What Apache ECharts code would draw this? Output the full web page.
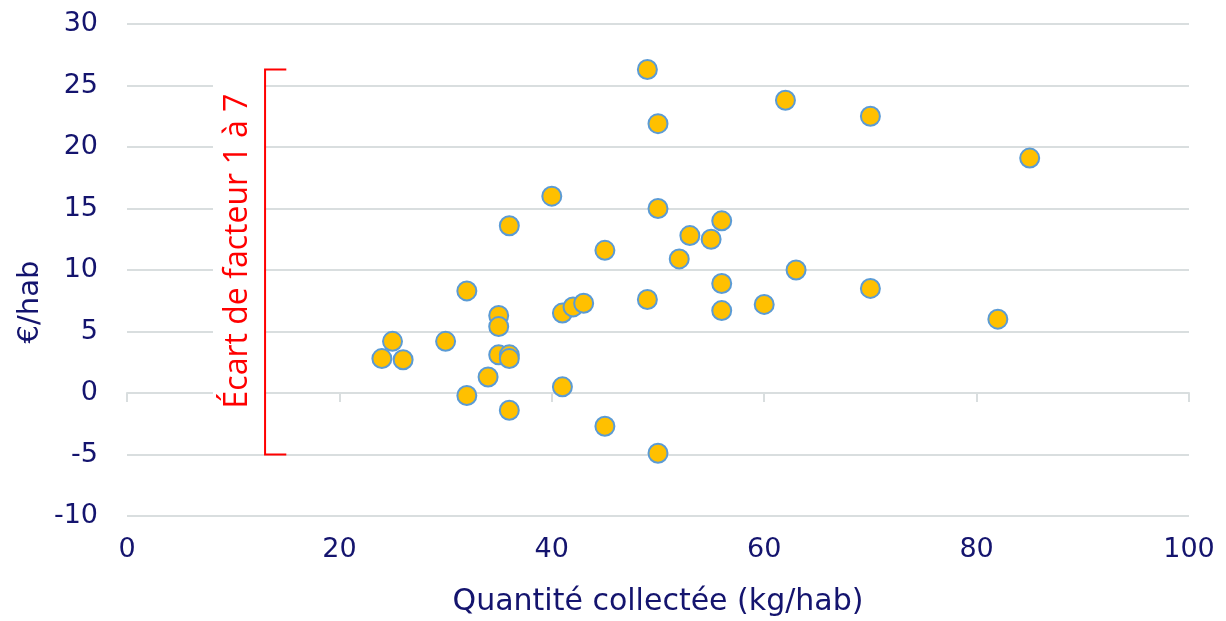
<!DOCTYPE html>
<html lang="fr">
<head>
    <meta charset="UTF-8">
    <title>Coût par habitant selon la quantité collectée</title>
    <script src="https://cdn.jsdelivr.net/npm/echarts@6/dist/echarts.min.js"></script>
    <style>
        html, body { margin: 0; padding: 0; background: #fff; }
    </style>
</head>
<body>
    <div id="main" style="width:1226px;height:621px;"></div>
    <script>
        // quantité collectée (kg/hab) et coût (€/hab) de chaque collectivité
        var quantites = [24, 25, 26, 30, 32, 32, 34, 35, 35, 35, 36, 36, 36, 36,
                         40, 41, 41, 42, 43, 45, 45, 49, 49, 50, 50, 50, 52, 53,
                         55, 56, 56, 56, 60, 62, 63, 70, 70, 82, 85];
        var couts = [2.8, 4.2, 2.7, 4.2, 8.3, -0.2, 1.3, 6.3, 5.4, 3.1, 3.1, 2.8, 13.6, -1.4,
                     16.0, 0.5, 6.5, 7.0, 7.3, 11.6, -2.7, 26.3, 7.6, 21.9, 15.0, -4.9, 10.9, 12.8,
                     12.5, 14.0, 8.9, 6.7, 7.2, 23.8, 10.0, 22.5, 8.5, 6.0, 19.1];

        // bornes de l'accolade "écart de facteur 1 à 7"
        var ecartMax = 26.3;
        var ecartMin = -5;

        var texte = '#14146E';
        var grille = '#D9DEDF';

        var points = quantites.map(function (q, i) {
            return [q, couts[i]];
        });

        var chart = echarts.init(document.getElementById('main'));

        var option = {
            animation: false,
            grid: {
                left: 127,
                right: 37,
                top: 24,
                bottom: 105,
                containLabel: false,
                outerBoundsMode: 'none'
            },
            xAxis: [
                {
                    type: 'value',
                    min: 0,
                    max: 100,
                    interval: 20,
                    name: 'Quantité collectée (kg/hab)',
                    nameLocation: 'middle',
                    nameGap: 71,
                    nameTextStyle: { color: texte, fontSize: 30, fontFamily: 'DejaVu Sans' },
                    axisLine: { show: false, onZero: false },
                    axisTick: { show: false },
                    splitLine: { show: false },
                    axisLabel: { color: texte, fontSize: 27, fontFamily: 'DejaVu Sans', margin: 20 }
                },
                {
                    // ligne de l'axe au niveau du zéro
                    type: 'value',
                    position: 'bottom',
                    min: 0,
                    max: 100,
                    interval: 20,
                    axisLine: { show: true, onZero: true, lineStyle: { color: grille, width: 2 } },
                    axisTick: { show: true, length: 9, lineStyle: { color: grille, width: 2 } },
                    axisLabel: { show: false },
                    splitLine: { show: false }
                }
            ],
            yAxis: {
                type: 'value',
                min: -10,
                max: 30,
                interval: 5,
                axisLine: { show: false },
                axisTick: { show: false },
                splitLine: { lineStyle: { color: grille, width: 2 } },
                axisLabel: { color: texte, fontSize: 27, fontFamily: 'DejaVu Sans', margin: 29 }
            },
            series: [
                {
                    type: 'scatter',
                    xAxisIndex: 0,
                    data: points,
                    symbolSize: 19,
                    itemStyle: {
                        color: '#FFC000',
                        borderColor: '#5B9BD5',
                        borderWidth: 2,
                        opacity: 1
                    },
                    z: 5
                }
            ]
        };

        chart.setOption(option);

        // accolade et texte à gauche, positionnés avec les échelles du graphique
        var haut = chart.convertToPixel({ xAxisIndex: 0, yAxisIndex: 0 }, [13, ecartMax]);
        var bas = chart.convertToPixel({ xAxisIndex: 0, yAxisIndex: 0 }, [13, ecartMin]);
        var bout = chart.convertToPixel({ xAxisIndex: 0, yAxisIndex: 0 }, [15, 0])[0];

        chart.setOption({
            graphic: [
                {
                    type: 'rect',
                    shape: { x: 213, y: haut[1] + 2, width: haut[0] - 214, height: 352 },
                    style: { fill: '#fff' },
                    z: 10
                },
                {
                    type: 'polyline',
                    shape: { points: [[bout, haut[1]], [haut[0], haut[1]], [bas[0], bas[1]], [bout, bas[1]]] },
                    style: { stroke: '#FF0000', lineWidth: 2, fill: null },
                    z: 11
                },
                {
                    type: 'text',
                    x: 238,
                    y: 251,
                    rotation: Math.PI / 2,
                    style: {
                        text: 'Écart de facteur 1 à 7',
                        fill: '#FF0000',
                        font: '32px "Open Sans"',
                        align: 'center',
                        verticalAlign: 'middle'
                    },
                    z: 11
                },
                {
                    type: 'text',
                    x: 30,
                    y: 302,
                    rotation: Math.PI / 2,
                    style: {
                        text: '€/hab',
                        fill: texte,
                        font: '29px "DejaVu Sans"',
                        align: 'center',
                        verticalAlign: 'middle'
                    },
                    z: 11
                }
            ]
        });
    </script>
</body>
</html>
